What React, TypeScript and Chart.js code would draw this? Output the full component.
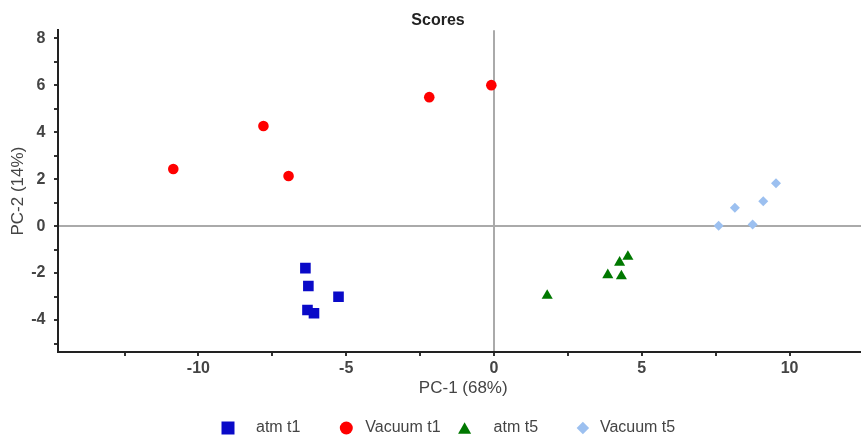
import React, { useEffect, useRef } from "react";
import { Chart, registerables } from "chart.js";

Chart.register(...registerables);

// ---- data ----
const seriesLabels = ["atm t1", "Vacuum t1", "atm t5", "Vacuum t5"];
const atmT1X = [-6.38, -6.28, -5.26, -6.31, -6.09];
const atmT1Y = [-1.79, -2.55, -3.01, -3.57, -3.71];
const vacT1X = [-10.85, -7.8, -6.95, -2.19, -0.09];
const vacT1Y = [2.43, 4.26, 2.13, 5.49, 6.0];
const atmT5X = [4.53, 4.25, 3.85, 4.31, 1.8];
const atmT5Y = [-1.3, -1.55, -2.08, -2.13, -2.96];
const vacT5X = [9.54, 8.15, 9.11, 7.6, 8.75];
const vacT5Y = [1.82, 0.78, 1.06, 0.01, 0.07];

const xTickValues = [-12.5, -10, -7.5, -5, -2.5, 0, 2.5, 5, 7.5, 10, 12.5];
const xTickLabels = [-10, -5, 0, 5, 10];
const yTickValues = [-5, -4, -3, -2, -1, 0, 1, 2, 3, 4, 5, 6, 7, 8];
const yTickLabels = [-4, -2, 0, 2, 4, 6, 8];

const toPoints = (xs: number[], ys: number[]) => xs.map((x, i) => ({ x, y: ys[i] }));

const FONT = "'Liberation Sans', Arial, sans-serif";

function drawMarker(ctx: CanvasRenderingContext2D, style: string, x: number, y: number, s: number, color: string) {
  ctx.save();
  ctx.fillStyle = color;
  ctx.beginPath();
  if (style === "rect") {
    ctx.rect(x - s / 2, y - s / 2, s, s);
  } else if (style === "circle") {
    ctx.arc(x, y, s / 2, 0, Math.PI * 2);
  } else if (style === "triangle") {
    const h = s * 0.9;
    ctx.moveTo(x, y - h / 2);
    ctx.lineTo(x + s / 2, y + h / 2);
    ctx.lineTo(x - s / 2, y + h / 2);
    ctx.closePath();
  } else {
    const r = s * 0.48;
    ctx.moveTo(x, y - r);
    ctx.lineTo(x + r, y);
    ctx.lineTo(x, y + r);
    ctx.lineTo(x - r, y);
    ctx.closePath();
  }
  ctx.fill();
  ctx.restore();
}

const legendPlugin = {
  id: "scoreLegend",
  afterDraw(chart: any, _args: any, opts: any) {
    const ctx = chart.ctx as CanvasRenderingContext2D;
    const cx = chart.width / 2;
    chart.data.datasets.forEach((ds: any, i: number) => {
      const mx = cx + opts.startOffset + i * opts.colWidth;
      drawMarker(ctx, ds.pointStyle, mx, opts.y, opts.markerSize, ds.backgroundColor);
      ctx.save();
      ctx.fillStyle = opts.color;
      ctx.font = `${opts.fontSize}px ${FONT}`;
      ctx.textAlign = "left";
      ctx.textBaseline = "middle";
      ctx.fillText(ds.label, mx + opts.textGaps[i], opts.y);
      ctx.restore();
    });
  },
};

export default function App() {
  const canvasRef = useRef<HTMLCanvasElement | null>(null);

  useEffect(() => {
    if (!canvasRef.current) return;
    const chart = new Chart(canvasRef.current, {
      type: "scatter",
      data: {
        datasets: [
          {
            label: seriesLabels[0],
            data: toPoints(atmT1X, atmT1Y),
            pointStyle: "rect",
            pointRadius: 7.5,
            backgroundColor: "#0a0ac8",
            borderWidth: 0,
          },
          {
            label: seriesLabels[1],
            data: toPoints(vacT1X, vacT1Y),
            pointStyle: "circle",
            pointRadius: 5.3,
            backgroundColor: "#ff0000",
            borderWidth: 0,
          },
          {
            label: seriesLabels[2],
            data: toPoints(atmT5X, atmT5Y),
            pointStyle: "triangle",
            pointRadius: 6.4,
            backgroundColor: "#007800",
            borderWidth: 0,
          },
          {
            label: seriesLabels[3],
            data: toPoints(vacT5X, vacT5Y),
            pointStyle: "rectRot",
            pointRadius: 5,
            backgroundColor: "#9cc0f0",
            borderWidth: 0,
          },
        ] as any,
      },
      plugins: [legendPlugin as any],
      options: {
        animation: false,
        responsive: false,
        devicePixelRatio: 1,
        layout: { padding: 0 },
        plugins: {
          legend: { display: false },
          tooltip: { enabled: false },
          title: {
            display: true,
            text: "Scores",
            color: "#222",
            font: { family: FONT, size: 16, weight: "bold", lineHeight: 1.2 },
            padding: { top: 11, bottom: 0 },
          },
          scoreLegend: {
            y: 428,
            startOffset: -210,
            colWidth: 118.3,
            textGaps: [28, 19, 29, 17],
            markerSize: 13,
            fontSize: 16,
            color: "#444",
          },
        } as any,
        scales: {
          x: {
            type: "linear",
            min: -14.75,
            max: 12.67,
            afterBuildTicks: (scale: any) => {
              scale.ticks = xTickValues.map((v) => ({ value: v }));
            },
            afterFit: (scale: any) => {
              scale.height = 85;
            },
            ticks: {
              autoSkip: false,
              maxRotation: 0,
              padding: 3,
              color: "#444",
              font: { family: FONT, size: 16, weight: "bold", lineHeight: 1.2 },
              callback: (v: any) => (xTickLabels.includes(Number(v)) ? String(v) : ""),
            },
            grid: {
              drawOnChartArea: true,
              color: (c: any) => (c.tick && c.tick.value === 0 ? "#aaaaaa" : "rgba(0,0,0,0)"),
              lineWidth: 2,
              drawTicks: true,
              tickLength: 4,
              tickColor: "#333",
              tickWidth: 2,
            },
            border: { display: true, color: "#222", width: 2 },
            title: {
              display: true,
              text: "PC-1 (68%)",
              color: "#444",
              font: { family: FONT, size: 17, lineHeight: 1.2 },
              padding: { top: 0, bottom: 38 },
            },
          },
          y: {
            type: "linear",
            min: -5.36,
            max: 8.34,
            afterBuildTicks: (scale: any) => {
              scale.ticks = yTickValues.map((v) => ({ value: v }));
            },
            afterFit: (scale: any) => {
              scale.width = 58;
            },
            ticks: {
              autoSkip: false,
              padding: 8.5,
              color: "#444",
              font: { family: FONT, size: 16, weight: "bold", lineHeight: 1.2 },
              callback: (v: any) => (yTickLabels.includes(Number(v)) ? String(v) : ""),
            },
            grid: {
              drawOnChartArea: true,
              color: (c: any) => (c.tick && c.tick.value === 0 ? "#aaaaaa" : "rgba(0,0,0,0)"),
              lineWidth: 2,
              drawTicks: true,
              tickLength: 4,
              tickColor: "#333",
              tickWidth: 2,
            },
            border: { display: true, color: "#222", width: 2 },
            title: {
              display: true,
              text: "PC-2 (14%)",
              color: "#444",
              font: { family: FONT, size: 17, lineHeight: 1.2 },
              padding: { top: 8.3, bottom: 0 },
            },
          },
        },
      } as any,
    });
    return () => chart.destroy();
  }, []);

  return (
    <div style={{ position: "absolute", left: 0, top: 0, width: 861, height: 437, overflow: "hidden", background: "#fff" }}>
      <div style={{ width: 876, height: 437 }}>
        <canvas ref={canvasRef} width={876} height={437} style={{ display: "block" }} />
      </div>
    </div>
  );
}
